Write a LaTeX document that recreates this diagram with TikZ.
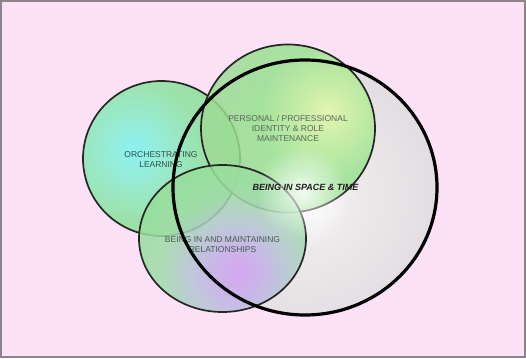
\documentclass[tikz,border=0pt]{standalone}
\usepackage{fontspec}
\setmainfont{Liberation Sans}
\usetikzlibrary{fadings}

% palette
\definecolor{bgpink}{HTML}{FDE1F6}
\definecolor{framegray}{HTML}{8C8489}
\definecolor{bigout}{HTML}{DED8DC}
\definecolor{bigmid}{HTML}{EEEAEC}
\definecolor{orchin}{HTML}{80F4F2}
\definecolor{orchmid}{HTML}{8EEDCF}
\definecolor{orchgreen}{HTML}{92E2A2}
\definecolor{orchout}{HTML}{90DA94}
\definecolor{persin}{HTML}{E2F9A8}
\definecolor{persmid}{HTML}{BDEE9A}
\definecolor{persgreen}{HTML}{98E290}
\definecolor{persout}{HTML}{A0DA98}
\definecolor{relin}{HTML}{D49CF2}
\definecolor{relmid}{HTML}{C6AEEA}
\definecolor{relgray}{HTML}{B6C4D6}
\definecolor{relgreen}{HTML}{A0DCA8}
\definecolor{relout}{HTML}{94DF98}
\definecolor{orchtext}{HTML}{2F4F4A}
\definecolor{perstext}{HTML}{5A6658}
\definecolor{reltext}{HTML}{4A5A50}
\definecolor{boldtext}{HTML}{1E1E1E}

% radial shadings (25bp = radius of the shaded circle)
\pgfdeclareradialshading{bigshade}{\pgfpointorigin}{color(0bp)=(white); color(8bp)=(bigmid); color(25bp)=(bigout); color(50bp)=(bigout)}
\pgfdeclareradialshading{orchshade}{\pgfpointorigin}{color(0bp)=(orchin); color(7bp)=(orchmid); color(15bp)=(orchgreen); color(25bp)=(orchout); color(50bp)=(orchout)}
\pgfdeclareradialshading{persshade}{\pgfpointorigin}{color(0bp)=(persin); color(6bp)=(persmid); color(13bp)=(persgreen); color(25bp)=(persout); color(50bp)=(persout)}
\pgfdeclareradialshading{relshade}{\pgfpointorigin}{color(0bp)=(relin); color(5bp)=(relmid); color(10bp)=(relgray); color(17bp)=(relgreen); color(25bp)=(relout); color(50bp)=(relout)}

\tikzfading[name=glowfade, inner color=transparent!0, outer color=transparent!100]

\tikzset{
  thinring/.style={draw=black!85, line width=1.7pt},
  thickring/.style={draw=black, line width=3.2pt},
  label/.style={align=center, font=\fontsize{8.5}{10}\selectfont, inner sep=0pt},
  boldlabel/.style={align=center, font=\fontsize{9}{11}\selectfont\bfseries\itshape, inner sep=0pt, text=boldtext}
}

\begin{document}
\begin{tikzpicture}[x=1pt,y=-1pt]
\useasboundingbox (0,0) rectangle (526,358);
\fill[bgpink] (0,0) rectangle (526,358);
\draw[framegray, line width=1.5pt] (1,1) rectangle (525,357);

% circle centres
\coordinate (cOrch) at (161.5,158.5);
\coordinate (cPers) at (288,128.5);
\coordinate (cRel) at (222.5,238.5);
\coordinate (cBig) at (305,187.5);

% large circle: soft grey body with a bright centre
\begin{scope}
  \clip (cBig) ellipse [x radius=132pt, y radius=127.5pt];
  \shade[shading=bigshade] (300,195) circle (170pt);
\end{scope}

% orchestrating learning
\begin{scope}[opacity=0.9]
  \clip (cOrch) ellipse [x radius=78.5pt, y radius=77.5pt];
  \shade[shading=orchshade] (134,150) circle (115pt);
\end{scope}
\draw[thinring] (cOrch) ellipse [x radius=78.5pt, y radius=77.5pt];

% personal / professional identity
\begin{scope}[opacity=0.84]
  \clip (cPers) ellipse [x radius=87pt, y radius=84pt];
  \shade[shading=persshade] (328,112) circle (130pt);
\end{scope}
\draw[thinring] (cPers) ellipse [x radius=87pt, y radius=84pt];

% relationships
\begin{scope}[opacity=0.86]
  \clip (cRel) ellipse [x radius=83.5pt, y radius=73.5pt];
  \shade[shading=relshade] (238,272) circle (115pt);
\end{scope}
\draw[thinring] (cRel) ellipse [x radius=83.5pt, y radius=73.5pt];

% bright glow in the middle
\fill[white, path fading=glowfade, opacity=0.85] (302,192) circle (46pt);

% labels
\node[label, text=orchtext] (tOrch) at (161,159.5) {ORCHESTRATING\\LEARNING};
\node[label, text=perstext] (tPers) at (288,128.5) {PERSONAL / PROFESSIONAL\\IDENTITY \& ROLE\\MAINTENANCE};
\node[label, text=reltext] (tRel) at (222.5,245) {BEING IN AND MAINTAINING\\RELATIONSHIPS};
\node[boldlabel] (tBig) at (305.5,187) {BEING IN SPACE \& TIME};

% heavy outline of the large circle on top
\draw[thickring] (cBig) ellipse [x radius=132pt, y radius=127.5pt];
\end{tikzpicture}
\end{document}
